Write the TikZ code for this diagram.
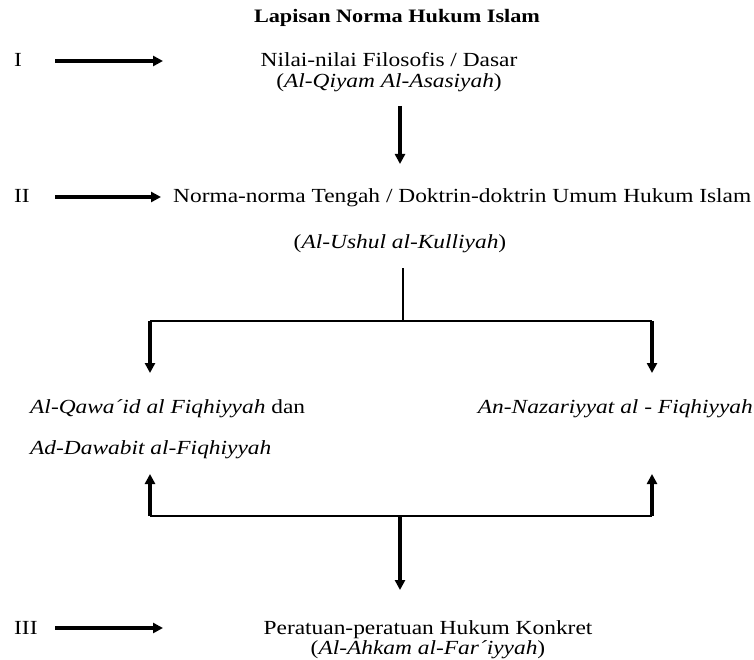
\documentclass[tikz,border=0pt]{standalone}
\usepackage{fontspec}
\setmainfont{Liberation Serif}[FakeStretch=1.17]
\usetikzlibrary{arrows.meta}
\begin{document}
\begin{tikzpicture}[x=1pt,y=-1pt,
  txt/.style={inner sep=0pt, font=\fontsize{20}{24}\selectfont},
  ttl/.style={inner sep=0pt, font=\fontsize{19}{23}\selectfont\bfseries},
  boldarrow/.style={line width=3.4pt, -{Triangle[length=10pt,width=10pt]}},
  plainline/.style={line width=1.7pt}
]
\useasboundingbox[fill=white] (0,0) rectangle (754,660);
% title
\node[ttl, anchor=base] (title) at (397,23) {Lapisan Norma Hukum Islam};
% level labels
\node[txt, anchor=base west] (labI) at (14,67) {I};
\node[txt, anchor=base west] (labII) at (14,203) {II};
\node[txt, anchor=base west] (labIII) at (14,634) {III};
% level texts
\node[txt, anchor=base] (n1) at (389,67) {Nilai-nilai Filosofis / Dasar};
\node[txt, anchor=base] (n1b) at (389,88) {(\textit{Al-Qiyam Al-Asasiyah})};
\node[txt, anchor=base west] (n2) at (173,203) {Norma-norma Tengah / Doktrin-doktrin Umum Hukum Islam};
\node[txt, anchor=base] (n2b) at (400,248) {(\textit{Al-Ushul al-Kulliyah})};
\node[txt, anchor=base west] (n3a) at (30,413) {\textit{Al-Qawa´id al Fiqhiyyah} dan};
\node[txt, anchor=base west] (n3a2) at (30,454) {\textit{Ad-Dawabit al-Fiqhiyyah}};
\node[txt, anchor=base east] (n3b) at (753,413) {\textit{An-Nazariyyat al - Fiqhiyyah}};
\node[txt, anchor=base] (n4) at (428,634) {Peratuan-peratuan Hukum Konkret};
\node[txt, anchor=base] (n4b) at (428,654) {(\textit{Al-Ahkam al-Far´iyyah})};
% level arrows
\coordinate (aIs) at (55,61);  \coordinate (aIe) at (163,61);
\coordinate (aIIs) at (55,197); \coordinate (aIIe) at (161,197);
\coordinate (aIIIs) at (55,628); \coordinate (aIIIe) at (163,628);
\draw[boldarrow] (aIs) -- (aIe);
\draw[boldarrow] (aIIs) -- (aIIe);
\draw[boldarrow] (aIIIs) -- (aIIIe);
% I -> II
\coordinate (v1s) at (400,106); \coordinate (v1e) at (400,164);
\draw[boldarrow] (v1s) -- (v1e);
% II -> branches
\coordinate (v2s) at (403,268); \coordinate (j2) at (403,321);
\coordinate (bl) at (150,321); \coordinate (br) at (652,321);
\coordinate (blt) at (150,373); \coordinate (brt) at (652,373);
\draw[plainline] (v2s) -- (j2);
\draw[plainline] (bl) -- (br);
\draw[boldarrow] (bl) -- (blt);
\draw[boldarrow] (br) -- (brt);
% branches -> III
\coordinate (ul) at (150,516); \coordinate (ur) at (652,516);
\coordinate (ult) at (150,474); \coordinate (urt) at (652,474);
\coordinate (j3) at (400,516); \coordinate (v3e) at (400,590);
\draw[plainline] (ul) -- (ur);
\draw[boldarrow] (ul) -- (ult);
\draw[boldarrow] (ur) -- (urt);
\draw[boldarrow] (j3) -- (v3e);
\end{tikzpicture}
\end{document}
